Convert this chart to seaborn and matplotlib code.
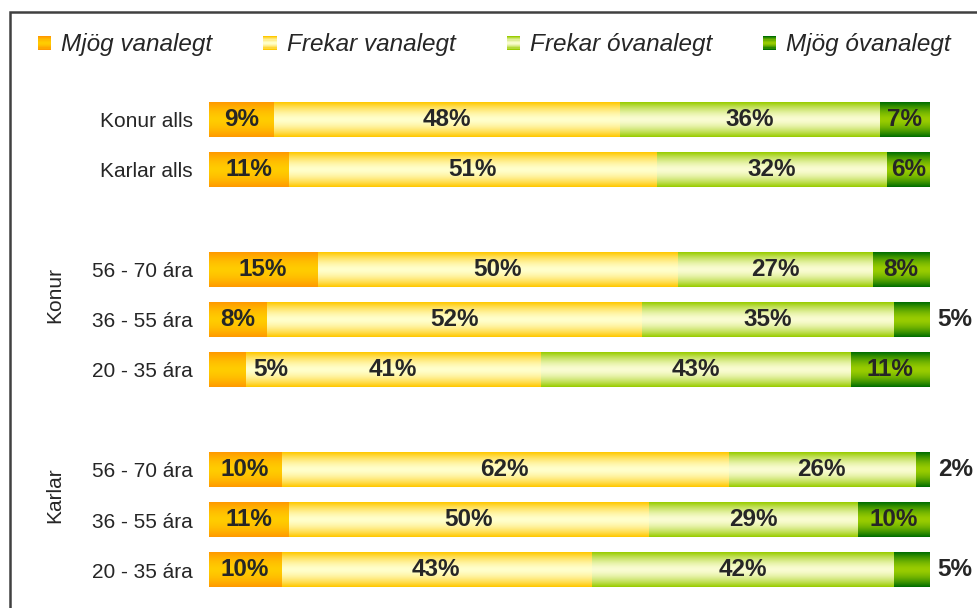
import numpy as np
import pandas as pd
import seaborn as sns
import matplotlib.pyplot as plt
from matplotlib.colors import to_rgb
from matplotlib.legend_handler import HandlerBase
from matplotlib.patches import Rectangle

# data
row_keys = ["k_alls", "m_alls", "k_56", "k_36", "k_20", "m_56", "m_36", "m_20"]
row_labels = ["Konur alls", "Karlar alls", "56 - 70 ára", "36 - 55 ára", "20 - 35 ára",
              "56 - 70 ára", "36 - 55 ára", "20 - 35 ára"]
order = ["k_alls", "m_alls", "gap1", "k_56", "k_36", "k_20", "gap2", "m_56", "m_36", "m_20"]
group_names = ["Konur", "Karlar"]
group_first_rows = [["k_56", "k_36"], ["m_56", "m_36"]]

series = ["Mjög vanalegt", "Frekar vanalegt", "Frekar óvanalegt", "Mjög óvanalegt"]
mjog_vanalegt = [9, 11, 15, 8, 5, 10, 11, 10]
frekar_vanalegt = [48, 51, 50, 52, 41, 62, 50, 43]
frekar_ovanalegt = [36, 32, 27, 35, 43, 26, 29, 42]
mjog_ovanalegt = [7, 6, 8, 5, 11, 2, 10, 5]

# (edge colour, centre colour) of the vertical gradients
grad_colors = [("#FF9900", "#FFCC00"),
               ("#FFC800", "#FFFFCC"),
               ("#99CC00", "#FAFCD2"),
               ("#006E00", "#99CC00")]


def gradient(edge, centre, n=64):
    e = np.array(to_rgb(edge))
    c = np.array(to_rgb(centre))
    t = np.abs(np.linspace(-1, 1, n)) ** 1.6
    return (c[None, :] + (e - c)[None, :] * t[:, None])[:, None, :]


class GradientHandler(HandlerBase):
    def __init__(self, edge, centre):
        super().__init__()
        self.edge, self.centre = edge, centre

    def create_artists(self, legend, orig_handle, xdescent, ydescent,
                       width, height, fontsize, trans):
        cols = gradient(self.edge, self.centre, 12)[:, 0, :]
        n = len(cols)
        arts = []
        for i, c in enumerate(cols):
            r = Rectangle((-xdescent, -ydescent + height * i / n), width, height / n + 0.3,
                          facecolor=c, edgecolor="none", transform=trans)
            arts.append(r)
        return arts


values = np.array([mjog_vanalegt, frekar_vanalegt, frekar_ovanalegt, mjog_ovanalegt])
cums = values.cumsum(axis=0)
df = pd.DataFrame({"key": row_keys})
for i in range(4):
    df[f"cum{i}"] = cums[i]

sns.set_style("white")
plt.rcParams["font.family"] = ["Liberation Sans", "DejaVu Sans"]

W, H = 978, 608
fig = plt.figure(figsize=(W / 100, H / 100), dpi=100)
ax = fig.add_axes([209 / W, (H - 595) / H, 721 / W, 500 / H])

# stacked bars: draw the largest cumulative first, smaller ones on top
for i in reversed(range(4)):
    before = len(ax.patches)
    sns.barplot(data=df, x=f"cum{i}", y="key", order=order, orient="h",
                width=0.7, color=grad_colors[i][1], ax=ax, zorder=10 - i,
                linewidth=0, edgecolor="none")
    img = gradient(*grad_colors[i])
    for p in ax.patches[before:]:
        w = p.get_width()
        if not np.isfinite(w) or w <= 0:
            continue
        x0, y0, h = p.get_x(), p.get_y(), p.get_height()
        p.set_facecolor("none")
        p.set_edgecolor("none")
        p.set_linewidth(0)
        ax.imshow(img, extent=[x0, x0 + w, y0 + h, y0], aspect="auto",
                  interpolation="bilinear", zorder=10 - i)

ax.set_xlim(0, 100)
ax.set_ylim(len(order) - 0.5, -0.5)
ax.set_xticks([])
ax.set_xlabel("")
ax.set_ylabel("")
ypos = [order.index(k) for k in row_keys]
ax.set_yticks(ypos)
ax.set_yticklabels(row_labels, fontsize=15)
ax.tick_params(axis="y", length=0, pad=11.5)
for s in ax.spines.values():
    s.set_visible(False)

# value labels
for r, y in enumerate(ypos):
    for i in range(4):
        v = values[i, r]
        end = cums[i, r]
        if v <= 5:
            xt = end + 3.5
        else:
            xt = end - v / 2
        ax.text(xt, y, f"{v}%", ha="center", va="center", fontsize=17.5,
                fontweight="bold", zorder=20, clip_on=False)

# group labels
trans = ax.get_yaxis_transform()
for name, keys in zip(group_names, group_first_rows):
    yc = np.mean([order.index(k) for k in keys])
    ax.text(-(209 - 55) / 721, yc, name, rotation=90, ha="center", va="center",
            fontsize=15, transform=trans)

# legend
handles = [Rectangle((0, 0), 1, 1) for _ in series]
hmap = {h: GradientHandler(*c) for h, c in zip(handles, grad_colors)}
fig.legend(handles, series, handler_map=hmap, loc="center left", ncol=4,
           bbox_to_anchor=(16 / W, 1 - 45 / H), frameon=False,
           prop={"style": "italic", "size": 17.5}, handlelength=0.54, handleheight=0.5,
           handletextpad=0.42, columnspacing=2.1)

# chart frame
fig.add_artist(Rectangle((10 / W, -0.1), 2, 1.1 - 12 / H, transform=fig.transFigure,
                         fill=False, edgecolor="#404040", linewidth=1.8))

fig.savefig("out.png", dpi=100)
